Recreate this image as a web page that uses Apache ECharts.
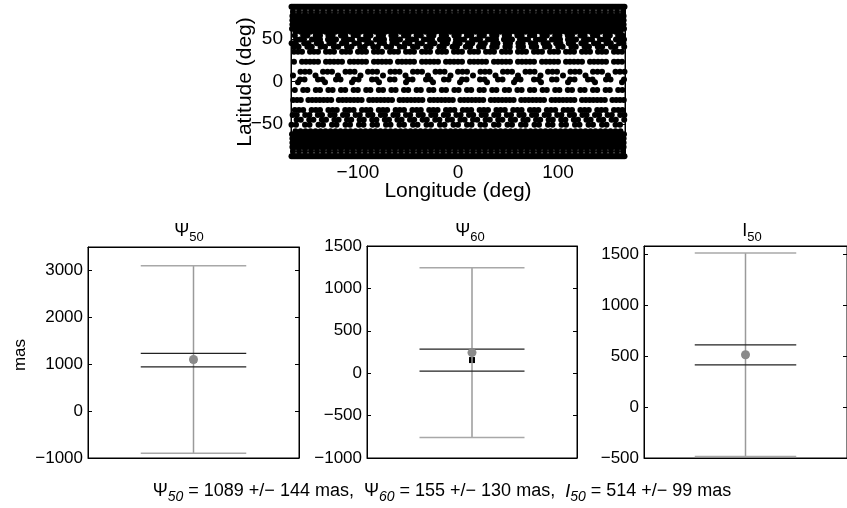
<!DOCTYPE html>
<html><head><meta charset="utf-8">
<script src="https://cdn.jsdelivr.net/npm/echarts@6/dist/echarts.min.js"></script>
<style>html,body{margin:0;padding:0;background:#fff}#c{width:847px;height:508px}</style>
</head><body><div id="c"></div><script>
// ---- Top panel: sky sampling rows (latitude, dot spacing in lon, dots per run, missing dots, phase)
const rowLat   = [88, 82, 77, 74.5, 72, 69.5, 67, 64.5, 62, 58.5, 54, 49.5, 45, 41, 35, 23.3, 11.5, 7, 2.5, -1, -10, -21.8, -33.5, -39.5, -45, -51, -58.5, -62, -64.5, -67, -69.5, -72, -74.5, -77, -82, -88];
const rowStep  = [1.5, 6, 3.6, 3.6, 3.6, 3.6, 3.6, 3.6, 4, 5, 4.2, 4, 4.2, 4.4, 4, 4.0, 4.5, 4.5, 4.5, 4.5, 4.2, 3.8, 4.2, 4.2, 4.2, 4.5, 5, 4, 3.6, 3.6, 3.6, 3.6, 3.6, 3.6, 6, 1.5];
const rowRun   = [1, 1, 1, 1, 1, 1, 1, 1, 1, 1, 2, 3, 2, 2, 3, 5, 3, 1, 2, 1, 2, 7, 3, 2, 2, 2, 1, 1, 1, 1, 1, 1, 1, 1, 1, 1];
const rowGap   = [0, 0, 0, 0, 0, 0, 0, 0, 0, 0, 1, 1, 1, 1, 1, 1, 2, 4, 2, 5, 1, 1, 1, 1, 1, 1, 0, 0, 0, 0, 0, 0, 0, 0, 0, 0];
const rowPhase = [0, 3, 0, 1.8, 0, 1.8, 0, 1.8, 2, 2.5, 0, 2, 1, 3, 0, 0, 0, 15, 4, 20, 0, 0, 0, 2, 6, 0, 2.5, 2, 1.8, 0, 1.8, 0, 1.8, 0, 3, 0];
const lonTicks = [-100, 0, 100];
const latTicks = [-50, 0, 50];

// ---- Bottom panels
const panelSym   = ['Ψ', 'Ψ', 'I'];
const panelSub   = ['50', '60', '50'];
const estimate   = [1089, 155, 514];
const sigma      = [144, 130, 99];
const truth      = [1100, 243, 515];
const truthHalf  = [2000, 1000, 1000];
const yMin       = [-1000, -1000, -500];
const yMax       = [3500, 1500, 1585];
const yTicks     = [[-1000, 0, 1000, 2000, 3000], [-1000, -500, 0, 500, 1000, 1500], [-500, 0, 500, 1000, 1500]];

const FONT = 'Liberation Sans, Arial, Helvetica, sans-serif';

const sky = [];
for (let i = 0; i < rowLat.length; i++) {
  const per = rowRun[i] + rowGap[i];
  let k = 0;
  for (let lon = -180 + rowPhase[i]; lon <= 180; lon += rowStep[i], k++) {
    if (k % per < rowRun[i]) sky.push([lon, rowLat[i]]);
  }
}

const grids = [
  {left: 291, top: 5, width: 334, height: 153},
  {left: 88, top: 247, width: 211, height: 211},
  {left: 367, top: 246, width: 210, height: 212},
  {left: 644, top: 246, width: 211, height: 212}
];
grids.forEach(g => { g.show = true; g.borderColor = '#000'; g.borderWidth = 1; g.backgroundColor = 'transparent'; g.containLabel = false; });

const tickStyle = {inside: false, length: -4, lineStyle: {color: '#000', width: 1}};
const lineOn = {show: true, onZero: false, lineStyle: {color: '#000', width: 1}};
const xAxes = [], yAxes = [];
const fmt = v => String(v).replace('-', '\u2212');
// top panel axes
xAxes.push({type: 'value', gridIndex: 0, min: -167, max: 167, position: 'bottom',
  axisLine: lineOn, splitLine: {show: false},
  axisTick: Object.assign({customValues: lonTicks}, tickStyle),
  axisLabel: {customValues: lonTicks, color: '#000', fontSize: 19, fontFamily: FONT, margin: 5, formatter: fmt}});
xAxes.push({type: 'value', gridIndex: 0, min: -167, max: 167, position: 'top',
  axisLine: lineOn, splitLine: {show: false},
  axisTick: Object.assign({customValues: lonTicks}, tickStyle), axisLabel: {show: false}});
yAxes.push({type: 'value', gridIndex: 0, min: -90, max: 90, position: 'left',
  axisLine: lineOn, splitLine: {show: false},
  axisTick: Object.assign({customValues: latTicks}, tickStyle),
  axisLabel: {customValues: latTicks, color: '#000', fontSize: 19, fontFamily: FONT, margin: 8, formatter: fmt}});
yAxes.push({type: 'value', gridIndex: 0, min: -90, max: 90, position: 'right',
  axisLine: lineOn, splitLine: {show: false},
  axisTick: Object.assign({customValues: latTicks}, tickStyle), axisLabel: {show: false}});

for (let p = 0; p < 3; p++) {
  const gi = p + 1;
  xAxes.push({type: 'value', gridIndex: gi, min: 0, max: 1, position: 'bottom',
    axisLine: lineOn, axisTick: {show: false}, axisLabel: {show: false}, splitLine: {show: false}});
  xAxes.push({type: 'value', gridIndex: gi, min: 0, max: 1, position: 'top',
    axisLine: lineOn, axisTick: {show: false}, axisLabel: {show: false}, splitLine: {show: false}});
  yAxes.push({type: 'value', gridIndex: gi, min: yMin[p], max: yMax[p], position: 'left',
    axisLine: lineOn, splitLine: {show: false},
    axisTick: Object.assign({customValues: yTicks[p]}, tickStyle),
    axisLabel: {customValues: yTicks[p], color: '#000', fontSize: 17, fontFamily: FONT, margin: 5, formatter: fmt}});
  yAxes.push({type: 'value', gridIndex: gi, min: yMin[p], max: yMax[p], position: 'right',
    axisLine: lineOn, splitLine: {show: false},
    axisTick: Object.assign({customValues: yTicks[p]}, tickStyle), axisLabel: {show: false}});
}

const series = [{
  type: 'scatter', xAxisIndex: 0, yAxisIndex: 0, data: sky, symbol: 'circle', symbolSize: 6,
  itemStyle: {color: '#000', opacity: 1}, clip: true, silent: true, animation: false, large: false
}];

function seg(p, pts, color, width, z) {
  return {type: 'line', xAxisIndex: 2 * (p + 1), yAxisIndex: 2 * (p + 1), data: pts, symbol: 'none',
    lineStyle: {color: color, width: width}, z: z, silent: true, animation: false};
}
for (let p = 0; p < 3; p++) {
  const hi = truth[p] + truthHalf[p], lo = truth[p] - truthHalf[p];
  series.push({type: 'scatter', xAxisIndex: 2 * (p + 1), yAxisIndex: 2 * (p + 1),
    data: [[0.5, estimate[p]]], symbol: 'rect', symbolSize: 6, itemStyle: {color: '#000', opacity: 1}, z: 2, animation: false});
  series.push(seg(p, [[0.5, lo], [0.5, hi]], '#9a9a9a', 1.5, 3));
  series.push(seg(p, [[0.25, hi], [0.75, hi]], '#a8a8a8', 1.5, 3));
  series.push(seg(p, [[0.25, lo], [0.75, lo]], '#a8a8a8', 1.5, 3));
  series.push(seg(p, [[0.25, estimate[p] + sigma[p]], [0.75, estimate[p] + sigma[p]]], '#222', 1.3, 4));
  series.push(seg(p, [[0.25, estimate[p] - sigma[p]], [0.75, estimate[p] - sigma[p]]], '#222', 1.3, 4));
  series.push({type: 'scatter', xAxisIndex: 2 * (p + 1), yAxisIndex: 2 * (p + 1),
    data: [[0.5, truth[p]]], symbol: 'circle', symbolSize: 9, itemStyle: {color: '#8a8a8a', opacity: 1}, z: 5, animation: false});
}

const graphics = [
  {type: 'text', x: 245, y: 82, rotation: Math.PI / 2,
    style: {text: 'Latitude (deg)', font: '21px ' + FONT, fill: '#000', textAlign: 'center', textVerticalAlign: 'middle'}},
  {type: 'text', x: 458, y: 191,
    style: {text: 'Longitude (deg)', font: '21px ' + FONT, fill: '#000', textAlign: 'center', textVerticalAlign: 'middle'}},
  {type: 'text', x: 20, y: 355, rotation: Math.PI / 2,
    style: {text: 'mas', font: '17px ' + FONT, fill: '#000', textAlign: 'center', textVerticalAlign: 'middle'}}
];
const centers = [189, 470, 752];
for (let p = 0; p < 3; p++) {
  graphics.push({type: 'text', x: centers[p], y: 219,
    style: {text: '{g|' + panelSym[p] + '}{s|' + panelSub[p] + '}', fill: '#000', textAlign: 'center', textVerticalAlign: 'top',
      rich: {g: {fontSize: 18, fontFamily: FONT, fill: '#000'}, s: {fontSize: 13, fontFamily: FONT, padding: [12, 0, 0, 0], fill: '#000'}}}});
}
const footer = estimate.map((v, p) => {
  const sym = p === 2 ? '{i|I}' : '{g|Ψ}';
  return sym + '{s|' + panelSub[p] + '}{n| = ' + v + ' +/\u2212 ' + sigma[p] + ' mas' + (p < 2 ? ',  ' : '') + '}';
}).join('');
graphics.push({type: 'text', x: 442, y: 479,
  style: {text: footer, textAlign: 'center', textVerticalAlign: 'top', fill: '#000',
    rich: {g: {fontSize: 18, fontFamily: FONT, fill: '#000'}, i: {fontSize: 18, fontStyle: 'italic', fontFamily: FONT, fill: '#000'},
      n: {fontSize: 18, fontFamily: FONT, fill: '#000'},
      s: {fontSize: 14, fontStyle: 'italic', fontFamily: FONT, padding: [11, 0, 0, 0], fill: '#000'}}}});

const chart = echarts.init(document.getElementById('c'), null, {renderer: 'canvas'});
chart.setOption({animation: false, backgroundColor: '#fff', grid: grids, xAxis: xAxes, yAxis: yAxes, series: series, graphic: graphics});
</script></body></html>
